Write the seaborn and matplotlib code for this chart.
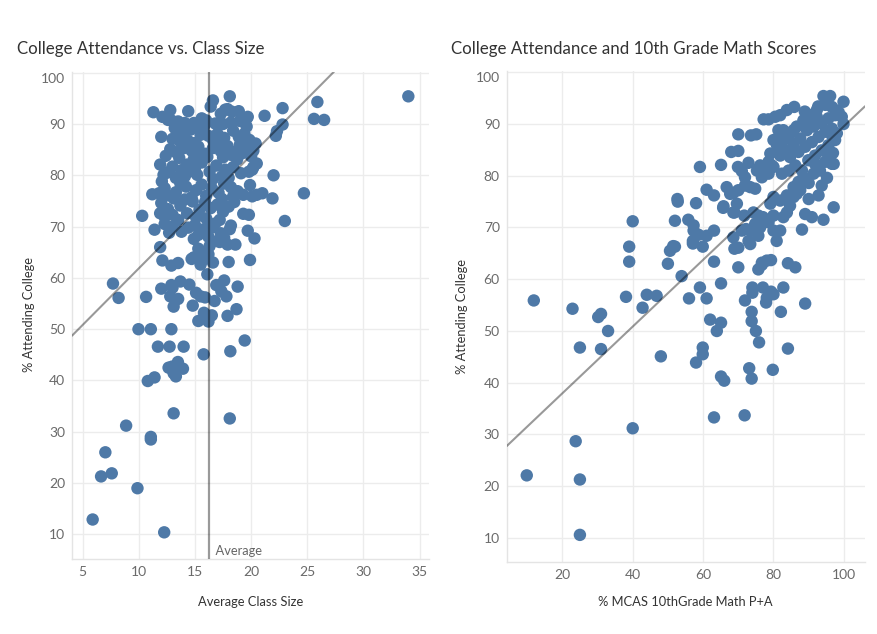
import numpy as np
import pandas as pd
import matplotlib
matplotlib.use("Agg")
import matplotlib.pyplot as plt
import matplotlib.transforms as mtransforms
import seaborn as sns

# ---------------- data: left chart (Average Class Size vs % Attending College)
class_size = [
    34.0, 25.9, 18.1, 16.6, 16.4, 17.9, 17.3, 22.8, 21.2, 18.9, 14.4, 12.8, 11.3, 12.1, 17.7, 18.3, 19.6, 15.6, 19.7, 12.6,
    12.9, 25.6, 26.5, 22.8, 19.6, 14.9, 14.1, 13.5, 15.2, 15.8, 16.8, 17.5, 18.2, 19.0, 16.0, 14.6, 13.2,
    22.3, 22.2, 12.0, 13.4, 14.0, 14.6, 19.85, 18.4, 17.0, 16.2, 15.5, 13.0, 14.4, 15.0, 16.6, 17.6, 18.9, 19.4, 20.4, 13.7, 17.2,
    12.8, 13.3, 14.0, 14.7, 15.3, 15.9, 16.6, 17.3, 17.9, 18.6, 19.2, 19.5, 19.0, 20.2,
    20.0, 12.4, 13.6, 14.9, 16.1, 17.5, 18.75, 18.2, 15.5,
    11.9, 12.2, 12.05, 20.1, 20.5, 22.0, 20.2, 19.8,
    13.0, 13.8, 14.3, 15.0, 15.6, 16.3, 16.9, 17.7, 18.4, 19.1, 12.6, 14.1, 15.2, 16.6, 17.4, 18.0, 13.3, 14.8,
    19.9, 21.0, 24.7, 20.5, 14.2, 13.7, 15.1, 15.6, 16.5, 17.1, 17.6, 18.2, 18.8, 12.3, 13.3,
    21.9, 20.1, 11.2, 11.8, 12.5, 14.7, 16.0, 17.4, 18.4, 19.3, 13.1,
    23.0, 19.3, 19.8, 10.3, 12.0, 12.6, 13.0, 13.7, 14.3, 14.8, 15.4, 15.9, 16.4, 17.0, 17.5, 18.0, 18.5, 12.3, 13.5, 15.1, 16.0, 17.2, 14.1, 11.9,
    11.4, 13.0, 13.8, 18.1, 18.2, 19.7, 20.3, 12.3, 12.7, 14.4, 15.0, 15.3, 15.8, 16.2, 16.8, 17.3, 16.5, 14.9, 17.6,
    11.9, 12.1, 12.9, 13.5, 14.7, 15.5, 15.7, 16.6, 18.0, 19.9, 18.6, 17.9, 15.3, 16.3, 17.0, 17.2, 15.8, 16.2, 14.9,
    16.1, 13.7, 14.5, 16.9, 17.6, 7.7, 12.9, 18.8,
    8.2, 10.65, 12.0, 12.8, 13.5, 13.1, 14.8, 15.1, 15.5, 15.9, 16.75, 17.35, 17.8, 18.7, 17.9, 15.8, 16.5, 15.3, 16.2, 13.0,
    9.97, 11.07, 12.9, 11.7, 12.74, 13.99, 15.77, 18.15, 19.43, 12.65, 13.48, 13.93, 13.1, 13.3, 12.95, 10.8, 11.4,
    13.1, 18.1, 8.87, 11.07, 11.07, 7.02, 6.64, 7.59, 9.88, 5.89, 12.26,
]
attend_left = [
    95.4, 94.3, 95.4, 94.6, 93.4, 92.9, 92.0, 93.1, 91.6, 92.5, 92.5, 92.7, 92.3, 91.4, 92.8, 92.4, 91.1, 91.1, 91.4, 90.8,
    90.7, 91.0, 90.8, 89.9, 89.5, 90.2, 90.2, 90.5, 89.2, 89.5, 90.1, 90.0, 90.3, 90.6, 90.7, 89.5, 89.2,
    88.6, 87.7, 87.5, 88.2, 88.6, 88.9, 86.9, 88.7, 88.1, 87.7, 87.9, 87.1, 86.7, 86.3, 86.9, 87.3, 87.5, 88.1, 86.2, 86.5, 86.2,
    85.1, 84.5, 85.3, 84.8, 85.6, 84.2, 85.3, 84.7, 85.7, 84.6, 84.3, 85.3, 86.0, 84.8,
    83.7, 83.8, 83.4, 83.2, 83.6, 83.5, 83.1, 84.0, 84.0,
    82.1, 80.1, 78.8, 81.1, 82.3, 80.0, 81.6, 80.7,
    81.7, 81.0, 82.1, 81.4, 82.5, 80.7, 81.9, 81.1, 81.6, 80.4, 80.6, 79.8, 80.1, 79.3, 79.8, 79.5, 79.5, 80.8,
    78.1, 76.5, 76.5, 76.2, 77.8, 78.4, 77.1, 78.2, 77.5, 76.6, 78.4, 77.7, 76.9, 77.5, 76.7,
    75.5, 75.9, 76.3, 76.5, 76.1, 75.7, 76.0, 75.4, 75.9, 76.2, 75.5,
    71.1, 72.5, 72.3, 72.1, 74.6, 73.4, 72.3, 74.1, 72.6, 74.9, 73.3, 74.8, 73.6, 74.3, 72.9, 73.9, 74.8, 71.9, 71.3, 71.8, 71.6, 71.3, 75.3, 72.6,
    69.4, 70.0, 69.0, 69.5, 70.2, 69.2, 67.7, 70.5, 68.8, 69.8, 70.3, 68.4, 69.5, 68.0, 70.6, 68.7, 69.8, 67.6, 67.8,
    66.0, 63.4, 62.4, 62.9, 63.7, 62.6, 63.5, 63.0, 63.1, 63.5, 66.5, 66.5, 65.7, 66.2, 67.2, 67.0, 64.9, 64.6, 64.0,
    60.7, 59.3, 58.7, 58.6, 59.5, 58.9, 58.6, 58.3,
    56.1, 56.3, 57.9, 56.4, 55.9, 54.4, 54.6, 57.1, 56.4, 56.2, 55.5, 57.4, 56.4, 53.9, 52.6, 53.2, 52.7, 51.6, 51.5, 58.1,
    50.0, 50.0, 50.0, 46.6, 46.6, 46.6, 45.1, 45.7, 47.8, 42.5, 43.6, 42.3, 41.4, 40.8, 42.7, 39.9, 40.6,
    33.6, 32.6, 31.2, 29.0, 28.5, 26.0, 21.3, 21.9, 19.0, 12.9, 10.4,
]

# ---------------- data: right chart (% MCAS 10th grade math P+A vs % Attending College)
math_pa = [
    9.9, 25.0, 25.0, 23.8, 40.0, 25.0, 31.0, 33.0, 48.0, 58.0, 59.9, 59.9, 63.9, 62.0, 65.1, 65.1, 66.0, 63.1, 71.8, 73.1, 73.8, 79.8, 84.1, 73.8, 75.0, 75.9,
    11.9, 22.9, 30.2, 31.0, 38.1, 42.8, 44.0, 46.8, 39.0, 39.0, 40.0, 50.0, 50.6, 52.0, 53.9, 52.0, 52.7, 52.8, 55.8, 57.3, 57.3, 57.1, 57.1, 58.7,
    61.0, 63.1, 59.9, 58.0, 59.1, 61.0, 63.1, 65.1, 65.8, 63.1, 59.1, 56.0, 61.0, 65.1, 68.0, 70.0, 70.0, 73.6, 75.1, 69.9, 71.0, 71.9, 72.9,
    70.0, 70.0, 71.9, 74.0, 74.0, 73.8, 75.7, 76.7, 78.1, 79.3, 77.0, 78.1, 79.3, 80.0, 77.9, 82.1, 82.8, 84.1, 86.2, 89.0, 88.1, 89.0, 90.9, 94.2, 97.1,
    99.9, 94.2, 96.1, 85.9, 83.8, 81.9, 80.5, 78.6, 77.2, 96.9, 96.6, 97.1, 90.0, 90.0, 92.8, 95.2, 93.7, 99.9, 98.5,
    68.6, 70.0, 71.9, 73.4, 74.8, 68.9, 69.6, 71.7, 72.9, 73.8, 75.7, 74.8, 76.2, 78.1, 80.0, 80.9, 81.9, 82.8, 83.8, 84.7, 85.7, 86.6, 87.6,
    80.0, 79.1, 81.9, 83.8, 85.7, 87.1, 88.5, 88.1, 86.2, 84.3, 82.4, 80.0, 78.6, 76.7, 75.3, 76.2, 78.6, 79.1, 81.0, 82.8, 84.7, 86.6, 88.5,
    90.4, 92.3, 94.7, 96.6, 97.5, 95.6, 93.7, 91.4, 89.5, 87.6, 85.7, 83.8, 81.9, 84.7, 87.1, 89.0, 90.9, 92.8, 94.7, 96.6, 98.0, 97.5, 95.6,
    93.7, 91.8, 89.9, 91.8, 93.2, 91.4, 94.7, 95.6, 96.6, 92.3, 90.4, 85.7, 83.8, 81.4, 80.0, 81.9, 82.8, 66.7, 67.7, 72.2, 71.0, 68.6, 68.9,
    73.4, 75.7, 77.0, 78.6, 80.0, 92.7, 95.1, 97.9, 99.4, 88.9, 65.7, 68.6, 74.3, 51.5, 79.5, 81.4, 78.1, 76.7,
]
attend_right = [
    22.1, 21.3, 10.6, 28.7, 31.2, 46.8, 46.5, 50.0, 45.1, 43.9, 46.8, 45.5, 50.0, 52.2, 51.6, 41.2, 40.4, 33.3, 33.7, 42.8, 40.8, 42.5, 46.6, 51.9, 50.0, 47.8,
    55.9, 54.3, 52.7, 53.3, 56.6, 54.5, 57.0, 56.8, 66.3, 63.4, 71.2, 63.0, 65.5, 66.3, 60.6, 71.3, 75.5, 75.0, 71.5, 70.4, 69.4, 67.4, 66.9, 68.6,
    68.4, 69.4, 66.3, 74.7, 81.7, 77.3, 76.2, 82.1, 74.1, 63.4, 58.4, 56.3, 56.3, 59.2, 84.6, 84.8, 88.0, 87.8, 88.0, 81.7, 80.9, 79.7, 82.5,
    62.3, 66.1, 55.9, 58.4, 57.4, 53.7, 61.9, 63.2, 63.6, 63.7, 58.4, 56.4, 57.6, 57.1, 55.5, 53.7, 58.4, 63.1, 62.3, 55.3, 69.6, 72.6, 72.0, 71.5, 73.9,
    94.3, 95.4, 95.4, 93.3, 92.7, 91.7, 91.4, 90.9, 90.9, 84.4, 82.3, 82.3, 78.6, 75.5, 76.2, 79.6, 78.1, 90.0, 92.3,
    76.7, 77.2, 78.1, 77.8, 77.5, 72.9, 74.6, 72.3, 67.4, 69.4, 68.4, 70.7, 70.0, 71.3, 72.3, 67.4, 69.4, 72.0, 72.9, 74.2, 75.9, 76.5, 77.2,
    75.9, 74.6, 75.2, 76.2, 77.8, 78.8, 79.7, 81.0, 82.0, 81.0, 80.4, 81.7, 80.4, 79.7, 81.0, 82.0, 82.7, 84.3, 85.9, 86.9, 88.2, 89.5, 90.7,
    91.7, 92.7, 93.7, 93.3, 91.7, 91.1, 90.1, 89.5, 88.8, 87.2, 86.2, 84.9, 83.9, 83.6, 84.6, 85.6, 86.5, 87.5, 88.5, 89.1, 88.2, 86.9, 85.9,
    84.9, 83.9, 83.0, 82.3, 81.0, 80.4, 82.7, 83.9, 87.8, 91.4, 90.4, 88.8, 87.5, 88.8, 86.9, 85.6, 88.8, 77.8, 76.5, 69.7, 69.4, 68.1, 65.9,
    66.8, 72.3, 72.0, 71.0, 69.4, 93.4, 93.9, 92.6, 91.4, 92.4, 73.8, 72.9, 72.9, 66.4, 82.0, 87.2, 81.6, 62.8,
]

# reference lines
avg_class_size = 16.23
trend_left = (2.206, 39.8)    # slope, intercept
trend_right = (0.645, 25.05)

left_ticks = [5, 10, 15, 20, 25, 30, 35]
right_ticks = [20, 40, 60, 80, 100]
y_ticks = [10, 20, 30, 40, 50, 60, 70, 80, 90, 100]

df_left = pd.DataFrame({"Average Class Size": class_size, "% Attending College": attend_left})
df_right = pd.DataFrame({"% MCAS 10thGrade Math P+A": math_pa, "% Attending College": attend_right})

sns.set_theme(style="white")
plt.rcParams["font.family"] = ["Lato", "DejaVu Sans"]

W, H = 878, 634
fig = plt.figure(figsize=(W / 100, H / 100), dpi=100)
ax1 = fig.add_axes([72 / W, 1 - 559 / H, 357 / W, (559 - 71.7) / H])
ax2 = fig.add_axes([506.7 / W, 1 - 562.3 / H, 358.3 / W, (562.3 - 70.7) / H])

POINT = "#4e79a7"
GRID = "#ececec"
TICKC = "#6a6a6a"
LABELC = "#333333"

def style(ax, xticks, xlim, ylim):
    ax.set_xlim(*xlim)
    ax.set_ylim(*ylim)
    ax.set_xticks(xticks)
    ax.set_yticks(y_ticks)
    ax.grid(True, color=GRID, lw=1)
    ax.set_axisbelow(True)
    for s in ["top", "right"]:
        ax.spines[s].set_visible(False)
    for s in ["left", "bottom"]:
        ax.spines[s].set_color("#e4e4e4")
        ax.spines[s].set_linewidth(1)
    ax.tick_params(length=0, labelsize=10, colors=TICKC, pad=5)
    ax.set_xlabel("")
    ax.set_ylabel("")
    lbls = ax.get_yticklabels()
    lbls[-1].set_verticalalignment("top")

sns.scatterplot(data=df_left, x="Average Class Size", y="% Attending College", ax=ax1,
                color=POINT, s=80, edgecolor="none", linewidth=0, alpha=1, zorder=3)
sns.scatterplot(data=df_right, x="% MCAS 10thGrade Math P+A", y="% Attending College", ax=ax2,
                color=POINT, s=80, edgecolor="none", linewidth=0, alpha=1, zorder=3)

style(ax1, left_ticks, (4.05, 35.84), (5.2, 100.2))
style(ax2, right_ticks, (4.2, 106.0), (5.3, 100.3))

# trend lines
ax1.axline((0, trend_left[1]), slope=trend_left[0], color="black", alpha=0.4, lw=1.5, zorder=4)
ax2.axline((0, trend_right[1]), slope=trend_right[0], color="black", alpha=0.4, lw=1.5, zorder=4)

# average reference line
ax1.axvline(avg_class_size, color="black", alpha=0.4, lw=1.6, zorder=4)
trans = mtransforms.blended_transform_factory(ax1.transData, ax1.transAxes)
ax1.text(avg_class_size, 0.017, "  Average", transform=trans, ha="left", va="center",
         fontsize=9.3, color="#666666", zorder=5)

# titles
fig.text(17 / W, 1 - 49 / H, "College Attendance vs. Class Size", fontsize=12.2,
         color="#333333", ha="left", va="center")
fig.text(451 / W, 1 - 49 / H, "College Attendance and 10th Grade Math Scores", fontsize=12.2,
         color="#333333", ha="left", va="center")

# axis labels
fig.text((72 + 429) / 2 / W, 1 - 602 / H, "Average Class Size", fontsize=9.3,
         color=LABELC, ha="center", va="center")
fig.text(685 / W, 1 - 602 / H, "% MCAS 10thGrade Math P+A", fontsize=9.3,
         color=LABELC, ha="center", va="center")
fig.text(29 / W, 1 - 315 / H, "% Attending College", fontsize=9.3, rotation=90,
         color=LABELC, ha="center", va="center")
fig.text(462 / W, 1 - 316 / H, "% Attending College", fontsize=9.3, rotation=90,
         color=LABELC, ha="center", va="center")

fig.savefig("out.png", dpi=100, facecolor="white")
